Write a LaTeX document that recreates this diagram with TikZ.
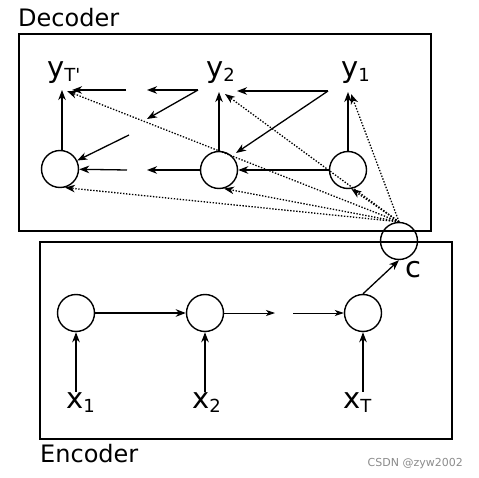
\documentclass[tikz,border=0pt]{standalone}
\usepackage{fontspec}
\setmainfont{DejaVu Sans}
\usetikzlibrary{arrows.meta}
\newcommand\lbl[2]{\fontsize{29}{29}\selectfont #1\raisebox{-4pt}{\fontsize{18}{18}\selectfont #2}}
\begin{document}
\begin{tikzpicture}[x=1pt,y=-1pt,
  circ/.style={circle,draw,line width=1.4pt,minimum size=37pt,inner sep=0pt},
  lab/.style={inner sep=0pt,anchor=base west},
  box/.style={draw,line width=1.3pt},
  arr/.style={line width=1.3pt,-{Stealth[length=10pt,width=7.5pt,inset=3pt]}},
  thinarr/.style={line width=0.9pt,-{Stealth[length=9pt,width=6pt,inset=2.5pt]}},
  dot/.style={line width=1.3pt,dash pattern=on 1.4pt off 1.6pt,-{Stealth[length=10pt,width=7.5pt,inset=3pt]}}]
\useasboundingbox (0,0) rectangle (479,478);
% boxes
\draw[box] (19,34) rectangle (431,231);
\draw[box] (40,242) rectangle (452,439);
\node[lab] (dec) at (18,27) {\fontsize{24}{24}\selectfont Decoder};
\node[lab] (enc) at (40,462) {\fontsize{24}{24}\selectfont Encoder};
\node[inner sep=0pt,anchor=base east,text=black!45] (wm) at (463,466) {\fontsize{11}{11}\selectfont CSDN @zyw2002};
% decoder nodes
\node[circ] (d1) at (60,169) {};
\node[circ] (d2) at (219,170) {};
\node[circ] (d3) at (348,170) {};
\node[lab] (yT) at (47,78) {\lbl{y}{T\textquotesingle}};
\node[lab] (y2) at (206,78) {\lbl{y}{2}};
\node[lab] (y1) at (341,78) {\lbl{y}{1}};
% context
\node[circ] (c) at (399,241) {};
\node[lab] (cl) at (405,277) {\fontsize{29}{29}\selectfont c};
% encoder nodes
\node[circ] (e1) at (76,313) {};
\node[circ] (e2) at (205,313) {};
\node[circ] (e3) at (363,313) {};
\node[lab] (x1) at (66,408) {\lbl{x}{1}};
\node[lab] (x2) at (192,408) {\lbl{x}{2}};
\node[lab] (xT) at (343,408) {\lbl{x}{T}};
% coordinates
\coordinate (yTin) at (62,90);
\coordinate (yTr) at (72,90);
\coordinate (gT) at (126,90);
\coordinate (Q) at (198,90);
\coordinate (gq) at (147,90);
\coordinate (gq2) at (147,119);
\coordinate (R) at (129,135);
\coordinate (ga) at (147,170);
\coordinate (gb) at (127,170);
\coordinate (y2in) at (219,92);
\coordinate (P) at (328,91);
\coordinate (y2r) at (237,91);
\coordinate (d2ne) at (236,153);
\coordinate (y1in) at (348,92);
\coordinate (yTd) at (67,91);
\coordinate (y2d) at (225,94);
\coordinate (y1d) at (351,94);
\coordinate (ea) at (275,313);
\coordinate (eb) at (293,313);
% decoder arrows
\draw[arr] (d1.north -| yTin) -- (yTin);
\draw[arr] (gT) -- (yTr);
\draw[arr] (Q) -- (gq);
\draw[arr] (Q) -- (gq2);
\draw[arr] (R) -- (d1);
\draw[arr] (d2) -- (ga);
\draw[arr] (gb) -- (d1);
\draw[arr] (d2.north) -- (y2in);
\draw[arr] (P) -- (y2r);
\draw[arr] (P) -- (d2ne);
\draw[arr] (d3) -- (d2);
\draw[arr] (d3.north) -- (y1in);
% attention dotted
\draw[dot] (c.north) -- (yTd);
\draw[dot] (c.north) -- (y2d);
\draw[dot] (c.north) -- (y1d);
\draw[dot] (c.north) -- (d3.-80);
\draw[dot] (c.north) -- (d2.-75);
\draw[dot] (c.north) -- (d1.-75);
% encoder arrows
\draw[arr,line width=1.7pt] (e1) -- (e2);
\draw[thinarr] (e2) -- (ea);
\draw[thinarr] (eb) -- (e3);
\draw[arr] (e3.north) -- (c.south);
\draw[arr] (x1.north -| e1) -- (e1);
\draw[arr] (x2.north -| e2) -- (e2);
\draw[arr] (xT.north -| e3) -- (e3);
\end{tikzpicture}
\end{document}
